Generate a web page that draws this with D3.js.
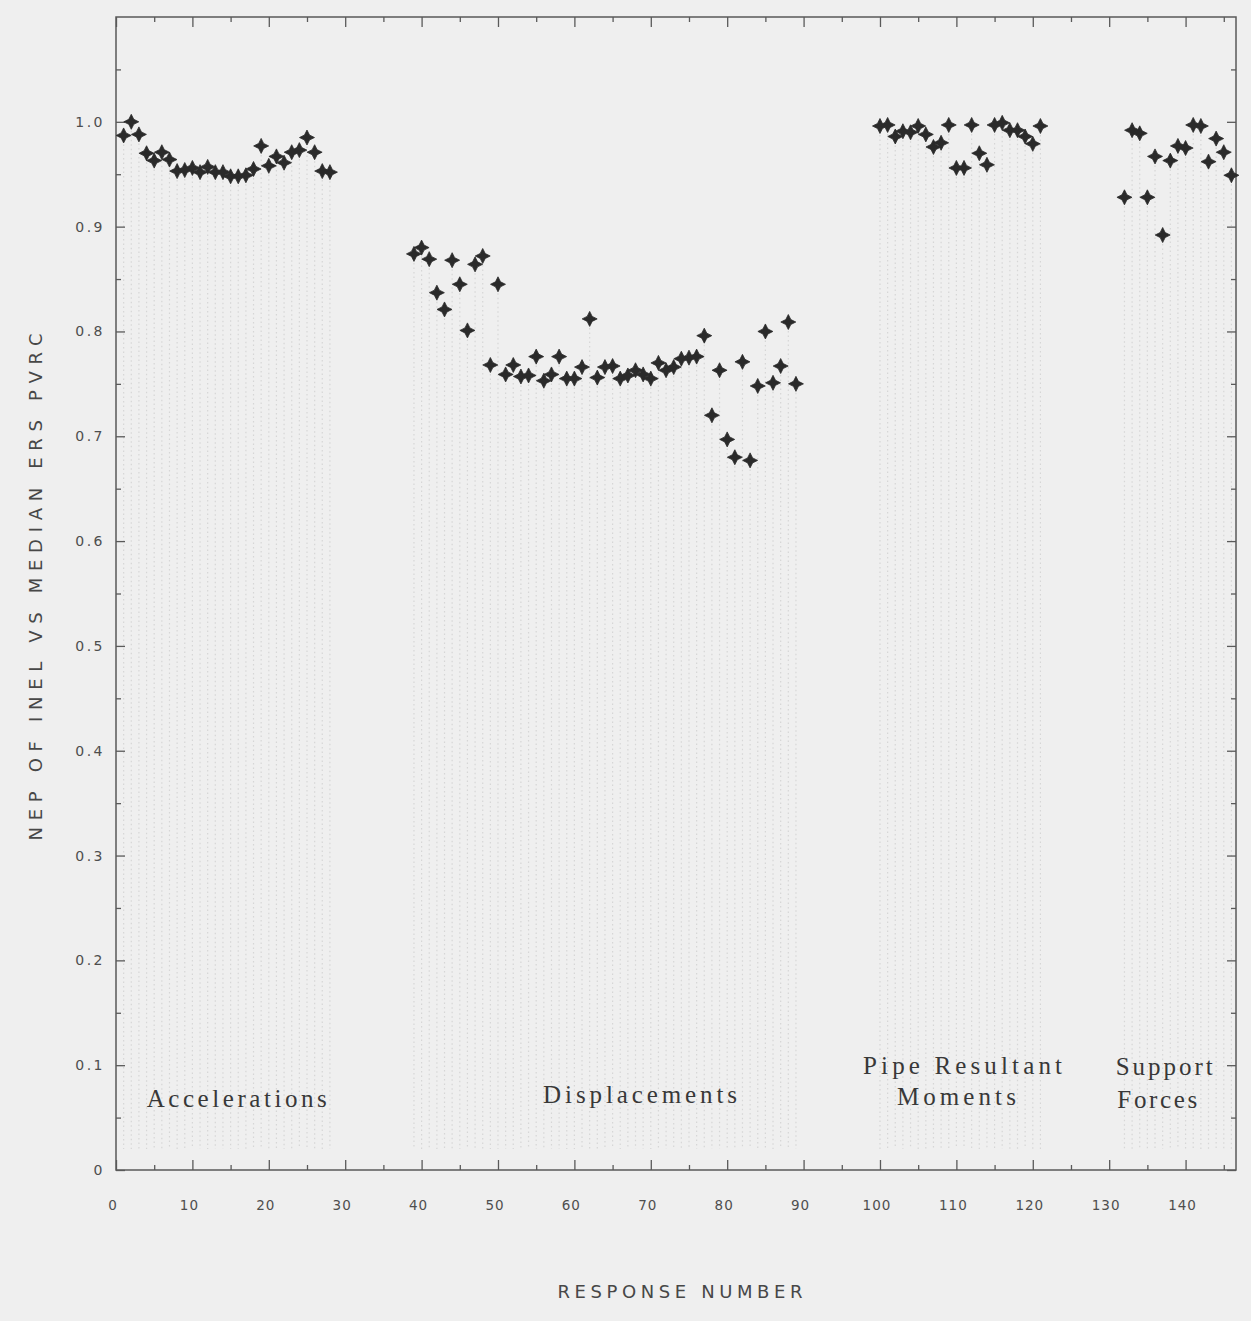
<!DOCTYPE html>
<html>
<head>
<meta charset="utf-8">
<script src="https://cdn.jsdelivr.net/npm/d3@7"></script>
<style>
  html, body { margin: 0; padding: 0; background: #efefef; }
  svg { display: block; }
</style>
</head>
<body>
<svg id="chart" width="1251" height="1321"></svg>
<script>
// ---------------- data ----------------
const accelerationIds = [1,2,3,4,5,6,7,8,9,10,11,12,13,14,15,16,17,18,19,20,21,22,23,24,25,26,27,28];
const accelerationNep = [0.987,1.000,0.988,0.970,0.963,0.971,0.964,0.953,0.954,0.956,0.952,0.957,0.952,0.952,0.948,0.948,0.949,0.955,0.977,0.958,0.967,0.961,0.971,0.973,0.985,0.971,0.953,0.952];

const displacementIds = [39,40,41,42,43,44,45,46,47,48,49,50,51,52,53,54,55,56,57,58,59,60,61,62,63,64,65,66,67,68,69,70,71,72,73,74,75,76,77,78,79,80,81,82,83,84,85,86,87,88,89];
const displacementNep = [0.874,0.880,0.869,0.837,0.821,0.868,0.845,0.801,0.864,0.872,0.768,0.845,0.759,0.768,0.757,0.758,0.776,0.753,0.759,0.776,0.755,0.755,0.766,0.812,0.756,0.766,0.767,0.755,0.758,0.763,0.759,0.755,0.770,0.763,0.766,0.774,0.775,0.776,0.796,0.720,0.763,0.697,0.680,0.771,0.677,0.748,0.800,0.751,0.767,0.809,0.750];

const momentIds = [100,101,102,103,104,105,106,107,108,109,110,111,112,113,114,115,116,117,118,119,120,121];
const momentNep = [0.996,0.997,0.986,0.991,0.990,0.996,0.988,0.976,0.980,0.997,0.956,0.956,0.997,0.970,0.959,0.997,0.999,0.992,0.992,0.986,0.979,0.996];

const supportIds = [132,133,134,135,136,137,138,139,140,141,142,143,144,145,146];
const supportNep = [0.928,0.992,0.989,0.928,0.967,0.892,0.963,0.977,0.975,0.997,0.996,0.962,0.984,0.971,0.949];

const xTickValues = [0,10,20,30,40,50,60,70,80,90,100,110,120,130,140];
const yTickValues = [0,0.1,0.2,0.3,0.4,0.5,0.6,0.7,0.8,0.9,1.0];
const yTickLabels = ["0","0.1","0.2","0.3","0.4","0.5","0.6","0.7","0.8","0.9","1.0"];

const groupCaptions = [["Accelerations"], ["Displacements"], ["Pipe Resultant", "Moments"], ["Support", "Forces"]];
// response-number centres of each caption line
const captionCenters = [[15.8], [68.6], [110.8, 110.0], [137.2, 136.3]];

const xTitle = "RESPONSE NUMBER";
const yTitle = "NEP OF INEL VS MEDIAN ERS PVRC";

(function draw() {
  // ---------------- layout ----------------
  const pL = 116, pR = 1236, pT = 17, pB = 1170;
  const x = d3.scaleLinear().domain([0, 146.6]).range([pL, pR]);
  const y = d3.scaleLinear().domain([0, 1.1]).range([pB, pT]);

  const svg = d3.select("#chart");
  svg.append("rect").attr("width", 1251).attr("height", 1321).attr("fill", "#efefef");

  const defs = svg.append("defs");
  defs.append("filter").attr("id", "soft")
    .append("feGaussianBlur").attr("stdDeviation", 0.7);

  const series = [
    { ids: accelerationIds, vals: accelerationNep },
    { ids: displacementIds, vals: displacementNep },
    { ids: momentIds, vals: momentNep },
    { ids: supportIds, vals: supportNep }
  ];
  const points = series.flatMap(s => s.ids.map((id, i) => ({ id, v: s.vals[i] })));

  // faint dotted stems
  svg.append("g").selectAll("line").data(points).join("line")
    .attr("x1", d => x(d.id)).attr("x2", d => x(d.id))
    .attr("y1", d => y(d.v) + 9).attr("y2", y(0.02))
    .attr("stroke", "#d6d6d6").attr("stroke-width", 1.2)
    .attr("stroke-dasharray", "1.5,3");

  // axes (ticks inward)
  const axisColor = "#5a5a5a";
  const xMinor = d3.range(5, 146, 10);
  const yMinor = d3.range(0.05, 1.1, 0.1);

  function styleAxis(g) {
    g.select(".domain").remove();
    g.selectAll("line").attr("stroke", axisColor).attr("stroke-width", 1.3);
    g.selectAll("text").remove();
  }
  svg.append("g").attr("transform", `translate(0,${pB})`)
    .call(d3.axisBottom(x).tickValues(xTickValues).tickSize(-10)).call(styleAxis);
  svg.append("g").attr("transform", `translate(0,${pB})`)
    .call(d3.axisBottom(x).tickValues(xMinor).tickSize(-5)).call(styleAxis);
  svg.append("g").attr("transform", `translate(0,${pT})`)
    .call(d3.axisTop(x).tickValues(xTickValues).tickSize(-10)).call(styleAxis);
  svg.append("g").attr("transform", `translate(0,${pT})`)
    .call(d3.axisTop(x).tickValues(xMinor).tickSize(-5)).call(styleAxis);
  svg.append("g").attr("transform", `translate(${pL},0)`)
    .call(d3.axisLeft(y).tickValues(yTickValues).tickSize(-9)).call(styleAxis);
  svg.append("g").attr("transform", `translate(${pL},0)`)
    .call(d3.axisLeft(y).tickValues(yMinor).tickSize(-5)).call(styleAxis);
  svg.append("g").attr("transform", `translate(${pR},0)`)
    .call(d3.axisRight(y).tickValues(yTickValues).tickSize(-9)).call(styleAxis);
  svg.append("g").attr("transform", `translate(${pR},0)`)
    .call(d3.axisRight(y).tickValues(yMinor).tickSize(-5)).call(styleAxis);

  // frame
  svg.append("rect").attr("x", pL).attr("y", pT)
    .attr("width", pR - pL).attr("height", pB - pT)
    .attr("fill", "none").attr("stroke", axisColor).attr("stroke-width", 1.5);

  // tick labels
  const tickFont = "'DejaVu Sans', sans-serif";
  svg.append("g").selectAll("text").data(xTickValues).join("text")
    .attr("x", d => x(d) - 3).attr("y", 1210)
    .attr("text-anchor", "middle")
    .attr("font-family", tickFont).attr("font-size", 13.5)
    .attr("letter-spacing", 1).attr("fill", "#4e4e4e")
    .text(d => d);
  svg.append("g").selectAll("text").data(yTickValues).join("text")
    .attr("x", 105).attr("y", d => y(d) + 5)
    .attr("text-anchor", "end")
    .attr("font-family", tickFont).attr("font-size", 14)
    .attr("letter-spacing", 2.5).attr("fill", "#4e4e4e")
    .text((d, i) => yTickLabels[i]);

  // axis titles
  svg.append("text")
    .attr("transform", "translate(42,587) rotate(-90)")
    .attr("text-anchor", "middle")
    .attr("font-family", tickFont).attr("font-size", 18)
    .attr("fill", "#474747")
    .attr("textLength", 507).attr("lengthAdjust", "spacing")
    .text(yTitle);
  svg.append("text")
    .attr("x", 680).attr("y", 1298)
    .attr("text-anchor", "middle")
    .attr("font-family", tickFont).attr("font-size", 18)
    .attr("fill", "#474747")
    .attr("textLength", 245).attr("lengthAdjust", "spacing")
    .text(xTitle);

  // group captions (serif, letter-spaced)
  const captionFont = "'Liberation Serif', 'DejaVu Serif', serif";
  const captionLens = [[180], [194], [199, 119], [97, 80]];
  const captionBases = [[1107], [1103], [1074, 1105], [1075, 1108]];
  groupCaptions.forEach((lines, gi) => {
    lines.forEach((t, li) => {
      svg.append("text")
        .attr("x", x(captionCenters[gi][li])).attr("y", captionBases[gi][li])
        .attr("text-anchor", "middle")
        .attr("font-family", captionFont).attr("font-size", 25)
        .attr("fill", "#383838")
        .attr("textLength", captionLens[gi][li]).attr("lengthAdjust", "spacing")
        .text(t);
    });
  });

  // markers: bold four-point crosses
  const star = "M0,-7.5L2.5,-2.5L7.5,0L2.5,2.5L0,7.5L-2.5,2.5L-7.5,0L-2.5,-2.5Z";
  svg.append("g").attr("filter", "url(#soft)")
    .selectAll("path").data(points).join("path")
    .attr("transform", d => `translate(${x(d.id)},${y(d.v)})`)
    .attr("d", star)
    .attr("fill", "#2b2b2b")
    .attr("stroke", "#2b2b2b").attr("stroke-width", 0.8);
})();
</script>
</body>
</html>
